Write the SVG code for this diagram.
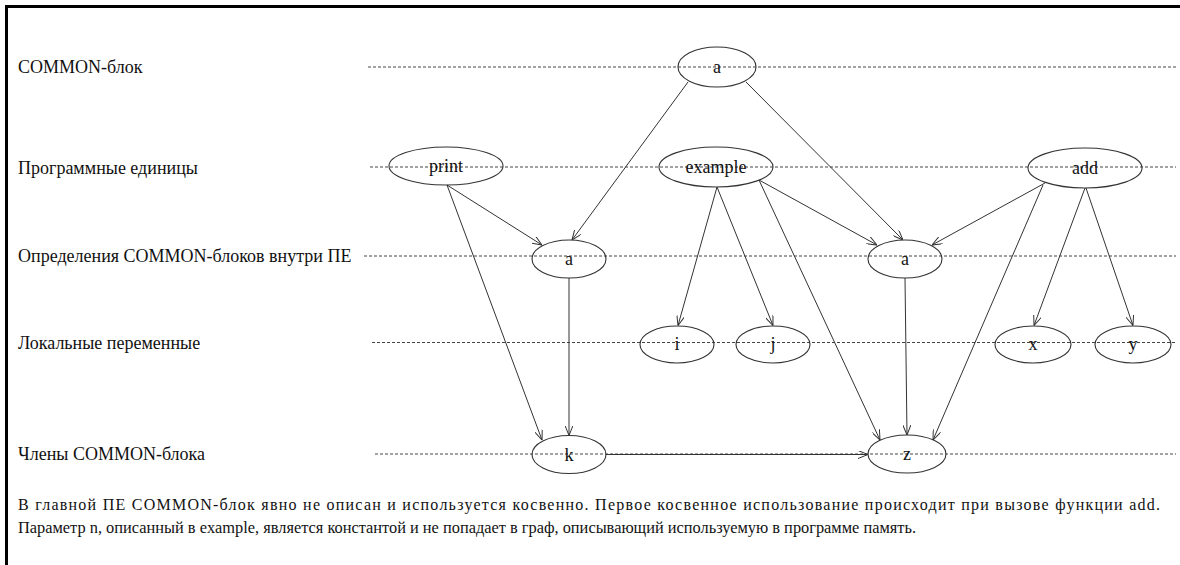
<svg xmlns="http://www.w3.org/2000/svg" width="1180" height="565" viewBox="0 0 1180 565">
<style>
  text { font-family: 'Liberation Serif', 'DejaVu Serif', serif; fill: #111; }
  .lvl { font-size: 18px; }
  .nt { font-size: 18px; text-anchor: middle; }
  .note { font-size: 16px; }
  .dash { stroke: #444; stroke-width: 1; stroke-dasharray: 3 2; fill: none; }
  .nd { fill: none; stroke: #333; stroke-width: 1.1; }
  .edge { stroke: #333; stroke-width: 1; fill: none; marker-end: url(#arr); }
</style>
<defs>
  <marker id="arr" viewBox="0 0 10 8" refX="10" refY="4" markerWidth="10" markerHeight="8" markerUnits="userSpaceOnUse" orient="auto">
    <path d="M0,0 L10,4 L0,8" fill="none" stroke="#333" stroke-width="1"/>
  </marker>
</defs>
<rect x="0" y="0" width="1180" height="565" fill="#fff"/>
<path d="M6.5 565 V6.5 H1180" fill="none" stroke="#000" stroke-width="3"/>

<g id="levels">
  <text class="lvl" x="18" y="73">COMMON-блок</text>
  <text class="lvl" x="18" y="174">Программные единицы</text>
  <text class="lvl" x="18" y="262">Определения COMMON-блоков  внутри ПЕ</text>
  <text class="lvl" x="18" y="349">Локальные переменные</text>
  <text class="lvl" x="18" y="460">Члены COMMON-блока</text>
  <line class="dash" x1="368" y1="67" x2="1176" y2="67"/>
  <line class="dash" x1="370" y1="167" x2="1176" y2="167"/>
  <line class="dash" x1="364" y1="256" x2="1176" y2="256"/>
  <line class="dash" x1="372" y1="342.5" x2="1176" y2="342.5"/>
  <line class="dash" x1="375" y1="454" x2="1176" y2="454"/>
</g>

<g id="connectors">
  <line class="edge" x1="688" y1="82" x2="572" y2="240"/>
  <line class="edge" x1="746" y1="82" x2="903" y2="240"/>
  <line class="edge" x1="447" y1="185" x2="542" y2="245"/>
  <line class="edge" x1="447" y1="185" x2="542" y2="440"/>
  <line class="edge" x1="569" y1="278" x2="569" y2="435.5"/>
  <line class="edge" x1="606" y1="454.5" x2="868" y2="454.5"/>
  <line class="edge" x1="717" y1="187" x2="678" y2="325.5"/>
  <line class="edge" x1="717" y1="187" x2="773" y2="325.5"/>
  <line class="edge" x1="759" y1="180" x2="877" y2="245"/>
  <line class="edge" x1="759" y1="180" x2="880" y2="440"/>
  <line class="edge" x1="1045" y1="183" x2="932" y2="245"/>
  <line class="edge" x1="1043" y1="185" x2="933" y2="440"/>
  <line class="edge" x1="1085" y1="188" x2="1034" y2="325.5"/>
  <line class="edge" x1="1086" y1="188" x2="1133" y2="325.5"/>
  <line class="edge" x1="905" y1="278" x2="907" y2="435"/>
</g>

<g id="node-common-a"><ellipse class="nd" cx="717" cy="67" rx="39" ry="20"/><text class="nt" x="717" y="73">a</text></g>
<g id="node-print"><ellipse class="nd" cx="446" cy="166" rx="57" ry="19"/><text class="nt" x="446" y="172">print</text></g>
<g id="node-example"><ellipse class="nd" cx="716" cy="167" rx="57" ry="20"/><text class="nt" x="716" y="173">example</text></g>
<g id="node-add"><ellipse class="nd" cx="1085" cy="168" rx="57" ry="20"/><text class="nt" x="1085" y="174">add</text></g>
<g id="node-a-left"><ellipse class="nd" cx="569" cy="259" rx="37" ry="19"/><text class="nt" x="569" y="265">a</text></g>
<g id="node-a-right"><ellipse class="nd" cx="905" cy="259" rx="37" ry="19"/><text class="nt" x="905" y="265">a</text></g>
<g id="node-i"><ellipse class="nd" cx="677" cy="344.5" rx="37" ry="18.5"/><text class="nt" x="677" y="350">i</text></g>
<g id="node-j"><ellipse class="nd" cx="773" cy="344.5" rx="37" ry="18.5"/><text class="nt" x="773" y="350">j</text></g>
<g id="node-x"><ellipse class="nd" cx="1033" cy="344.5" rx="38" ry="18.5"/><text class="nt" x="1033" y="350">x</text></g>
<g id="node-y"><ellipse class="nd" cx="1133" cy="344.5" rx="38" ry="18.5"/><text class="nt" x="1133" y="350">y</text></g>
<g id="node-k"><ellipse class="nd" cx="569" cy="454.5" rx="37" ry="19"/><text class="nt" x="569" y="460.5">k</text></g>
<g id="node-z"><ellipse class="nd" cx="907" cy="454" rx="39" ry="19"/><text class="nt" x="907" y="460">z</text></g>

<g id="note">
  <text class="note" x="18" y="510" textLength="1142" lengthAdjust="spacing">В главной ПЕ COMMON-блок явно не описан и используется косвенно. Первое косвенное использование происходит при вызове функции add.</text>
  <text class="note" x="18" y="533" textLength="898" lengthAdjust="spacingAndGlyphs">Параметр n, описанный в example, является константой и не попадает в граф, описывающий используемую в программе память.</text>
</g>
</svg>
